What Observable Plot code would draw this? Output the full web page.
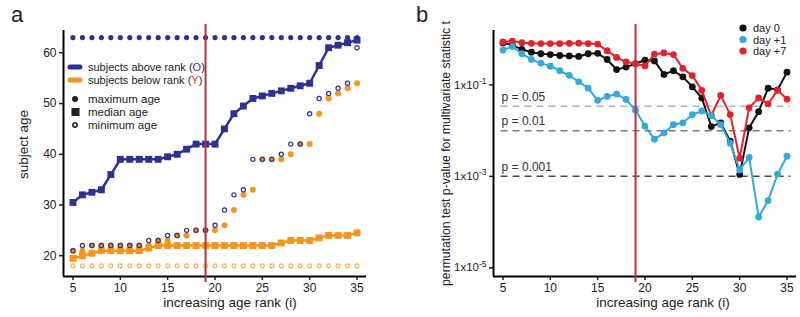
<!DOCTYPE html>
<html>
<head>
<meta charset="utf-8">
<script src="https://cdn.jsdelivr.net/npm/d3@7"></script>
<script src="https://cdn.jsdelivr.net/npm/@observablehq/plot@0.6"></script>
<style>
  html, body { margin: 0; padding: 0; background: #fff; }
  #wrap { display: flex; width: 800px; height: 317px; }
  #wrap svg { display: block; }
</style>
</head>
<body>
<div id="wrap"></div>
<script>
// ---------- shared ----------
const ranks = [5,6,7,8,9,10,11,12,13,14,15,16,17,18,19,20,21,22,23,24,25,26,27,28,29,30,31,32,33,34,35];
const xTicks = [5,10,15,20,25,30,35];
const cutRank = 19;

// ---------- panel a: subject age ----------
const oldMax = [63,63,63,63,63,63,63,63,63,63,63,63,63,63,63,63,63,63,63,63,63,63,63,63,63,63,63,63,63,63,63];
const oldMed = [30.5,32,32.5,33,36,39,39,39,39,39,39.5,40,41,42,42,42,45,48,49.5,51,51.5,52,52.5,53,53.5,54,57.5,61,61.5,62,62.5];
const oldMin = [21,22,22,22,22,22,22,22,23,23,24,24,25,25,25,26,29,32,33,39,39,39,40,42,42,48,51,52,53,54,61];
const youngMax = [21,21,22,22,22,22,22,22,22,23,23,24,24,25,25,25,26,29,32,33,39,39,39,40,42,42,48,51,52,53,54];
const youngMed = [19.5,20,20.5,21,21,21,21,21,21.5,22,22,22,22,22,22,22,22,22,22,22,22,22,22.5,23,23,23,23.5,24,24,24,24.5];
const youngMin = [18,18,18,18,18,18,18,18,18,18,18,18,18,18,18,18,18,18,18,18,18,18,18,18,18,18,18,18,18,18,18];
const ageTicks = [20,30,40,50,60];

// ---------- panel b: p-values ----------
const day0 = [0.83,0.74,0.60,0.52,0.48,0.46,0.44,0.43,0.42,0.48,0.49,0.36,0.216,0.245,0.29,0.35,0.335,0.17,0.204,0.15,0.091,0.052,0.0123,0.0148,0.0059,0.0011,0.0115,0.026,0.085,0.078,0.19];
const day1 = [0.58,0.69,0.48,0.36,0.30,0.257,0.204,0.162,0.117,0.085,0.046,0.056,0.063,0.048,0.028,0.0126,0.0065,0.0089,0.0135,0.0148,0.0224,0.0269,0.0214,0.0135,0.0053,0.00138,0.0026,0.000129,0.000295,0.00112,0.00275];
const day7 = [0.87,0.91,0.84,0.81,0.80,0.80,0.80,0.81,0.82,0.80,0.78,0.56,0.40,0.32,0.29,0.26,0.47,0.50,0.46,0.23,0.16,0.076,0.0214,0.059,0.0224,0.0025,0.0316,0.052,0.0385,0.076,0.049];
const pLevels = [0.034, 0.01, 0.001];
const pLabels = ["p = 0.05", "p = 0.01", "p = 0.001"];
const pTicks = [1e-1, 1e-3, 1e-5];

// ---------- styles ----------
const FONT = "'Liberation Sans', Arial, Helvetica, sans-serif";
const NAVY = "#2e3192", ORANGE = "#f7941d", ORANGE_LIGHT = "#f6b04f", CUT = "#b3343f";
const C0 = "#111111", C1 = "#35a8dc", C7 = "#e3232b";
const pColors = ["#b4b4b4", "#7a7a7a", "#4a4a4a"];

const rowsA = ranks.map((r, i) => ({rank: r, oMax: oldMax[i], oMed: oldMed[i], oMin: oldMin[i], yMax: youngMax[i], yMed: youngMed[i], yMin: youngMin[i]}));
const rowsB = ranks.map((r, i) => ({rank: r, d0: day0[i], d1: day1[i], d7: day7[i]}));
const pRows = pLevels.map((p, i) => ({p, label: pLabels[i], color: pColors[i]}));

const xDom = [4, 36];
const yDomA = [15.9, 64.4];
const yDomB = [Math.pow(10, -5.19), Math.pow(10, 0.19)];

const svgA = Plot.plot({
  width: 400, height: 317,
  marginLeft: 63, marginRight: 34, marginTop: 30, marginBottom: 41,
  style: {fontFamily: FONT, fontSize: "12px", color: "#222", background: "white"},
  x: {domain: xDom},
  y: {domain: yDomA},
  marks: [
    Plot.axisX({ticks: xTicks, tickSize: 4, tickPadding: 3, strokeWidth: 1.5, fontSize: 12, label: null}),
    Plot.axisY({ticks: ageTicks, tickSize: 4, tickPadding: 3, strokeWidth: 1.5, fontSize: 12, label: null}),
    Plot.ruleY([yDomA[0]], {stroke: "#000", strokeWidth: 2}),
    Plot.ruleX([xDom[0]], {stroke: "#000", strokeWidth: 2}),
    Plot.text(["increasing age rank (i)"], {frameAnchor: "bottom", lineAnchor: "middle", textAnchor: "middle", dx: 15, dy: 26, fontSize: 13.5, fill: "#222"}),
    Plot.text(["subject age"], {frameAnchor: "left", lineAnchor: "middle", textAnchor: "middle", rotate: -90, dx: -40, dy: -9, fontSize: 13.5, fill: "#222"}),
    // young (below rank)
    Plot.dot(rowsA, {x: "rank", y: "yMin", r: 2, stroke: ORANGE_LIGHT, strokeWidth: 1.1, fill: "none"}),
    Plot.line(rowsA, {x: "rank", y: "yMed", stroke: ORANGE, strokeWidth: 2.5}),
    Plot.dot(rowsA, {x: "rank", y: "yMed", symbol: "square", r: 3.9, fill: ORANGE}),
    Plot.dot(rowsA, {x: "rank", y: "yMax", r: 3, fill: ORANGE}),
    // old (above rank)
    Plot.dot(rowsA, {x: "rank", y: "oMax", r: 2.6, fill: NAVY}),
    Plot.line(rowsA, {x: "rank", y: "oMed", stroke: NAVY, strokeWidth: 2.5}),
    Plot.dot(rowsA, {x: "rank", y: "oMed", symbol: "square", r: 3.9, fill: NAVY}),
    Plot.dot(rowsA, {x: "rank", y: "oMin", r: 2.1, stroke: NAVY, strokeWidth: 1.2, fill: "none"}),
    Plot.ruleX([cutRank], {y1: 65.6, y2: 14.7, stroke: CUT, strokeWidth: 2})
  ]
});

const svgB = Plot.plot({
  width: 400, height: 317,
  marginLeft: 93, marginRight: 4, marginTop: 30, marginBottom: 41,
  style: {fontFamily: FONT, fontSize: "12px", color: "#222", background: "white"},
  x: {domain: xDom},
  y: {type: "log", domain: yDomB},
  marks: [
    Plot.axisX({ticks: xTicks, tickSize: 4, tickPadding: 3, strokeWidth: 1.5, fontSize: 12, label: null}),
    Plot.axisY({ticks: pTicks, tickSize: 4, tickPadding: 3, strokeWidth: 1.5, fontSize: 11.5, label: null,
      tickFormat: d => "1x10^" + Math.round(Math.log10(d))}),
    Plot.ruleY([yDomB[0]], {stroke: "#000", strokeWidth: 2}),
    Plot.ruleX([xDom[0]], {stroke: "#000", strokeWidth: 2}),
    Plot.text(["increasing age rank (i)"], {frameAnchor: "bottom", lineAnchor: "middle", textAnchor: "middle", dx: 18, dy: 26, fontSize: 13.5, fill: "#222"}),
    Plot.text(["permutation test p-value for multivariate statistic t"], {frameAnchor: "left", lineAnchor: "middle", textAnchor: "middle", rotate: -90, dx: -47, fontSize: 12.2, fill: "#222"}),
    Plot.ruleY(pRows, {y: "p", x1: 4.8, x2: 35.4, stroke: "color", strokeWidth: 1.5, strokeDasharray: "7,5"}),
    Plot.text(pRows, {x: 4.85, y: "p", text: "label", textAnchor: "start", dy: -9, fontSize: 12, fill: "#333"}),
    Plot.line(rowsB, {x: "rank", y: "d0", stroke: C0, strokeWidth: 2}),
    Plot.dot(rowsB, {x: "rank", y: "d0", r: 3.4, fill: C0}),
    Plot.line(rowsB, {x: "rank", y: "d7", stroke: C7, strokeWidth: 2}),
    Plot.dot(rowsB, {x: "rank", y: "d7", r: 3.4, fill: C7}),
    Plot.line(rowsB, {x: "rank", y: "d1", stroke: C1, strokeWidth: 2}),
    Plot.dot(rowsB, {x: "rank", y: "d1", r: 3.4, fill: C1}),
    Plot.ruleX([cutRank], {y1: Math.pow(10, 0.32), y2: Math.pow(10, -5.32), stroke: CUT, strokeWidth: 2})
  ]
});

// superscript exponents on log tick labels
d3.select(svgB).selectAll('g[aria-label="y-axis tick label"] text').each(function() {
  const t = d3.select(this);
  const parts = t.text().split("^");
  if (parts.length === 2) {
    t.text(parts[0]);
    t.append("tspan").attr("dy", "-0.55em").attr("font-size", "8.5px").text(parts[1]);
  }
});

// ---------- panel labels and legends ----------
function addText(svg, x, y, opts = {}) {
  return d3.select(svg).append("text")
    .attr("x", x).attr("y", y)
    .attr("font-family", FONT)
    .attr("font-size", opts.size || 11)
    .attr("fill", opts.fill || "#222")
    .attr("text-anchor", opts.anchor || "start");
}
addText(svgA, 11, 22, {size: 22}).text("a");
addText(svgB, 16, 22, {size: 22}).text("b");

// legend a
const ga = d3.select(svgA).append("g");
[[NAVY, 67, "subjects above rank (", "O", NAVY], [ORANGE, 80, "subjects below rank (", "Y", "#e0452b"]].forEach(([c, y, s, letter, lc]) => {
  ga.append("line").attr("x1", 70).attr("x2", 80).attr("y1", y).attr("y2", y)
    .attr("stroke", c).attr("stroke-width", 5).attr("stroke-linecap", "round");
  const t = addText(svgA, 88, y + 4, {size: 11});
  t.append("tspan").text(s);
  t.append("tspan").attr("fill", lc).text(letter);
  t.append("tspan").text(")");
});
ga.append("circle").attr("cx", 75).attr("cy", 99).attr("r", 3).attr("fill", "#222");
addText(svgA, 88, 103, {size: 11.5}).text("maximum age");
ga.append("rect").attr("x", 71.5).attr("y", 108).attr("width", 8).attr("height", 8).attr("fill", "#222");
addText(svgA, 88, 115.5, {size: 11.5}).text("median age");
ga.append("circle").attr("cx", 75).attr("cy", 125).attr("r", 2.2).attr("fill", "none").attr("stroke", "#222").attr("stroke-width", 1.5);
addText(svgA, 88, 128.5, {size: 11.5}).text("minimum age");

// legend b
const gb = d3.select(svgB).append("g");
[[C0, 28, "day 0"], [C1, 39.5, "day +1"], [C7, 51, "day +7"]].forEach(([c, y, s]) => {
  gb.append("circle").attr("cx", 343).attr("cy", y).attr("r", 3.6).attr("fill", c);
  addText(svgB, 353, y + 4).text(s);
});

document.getElementById("wrap").append(svgA, svgB);
</script>
</body>
</html>
